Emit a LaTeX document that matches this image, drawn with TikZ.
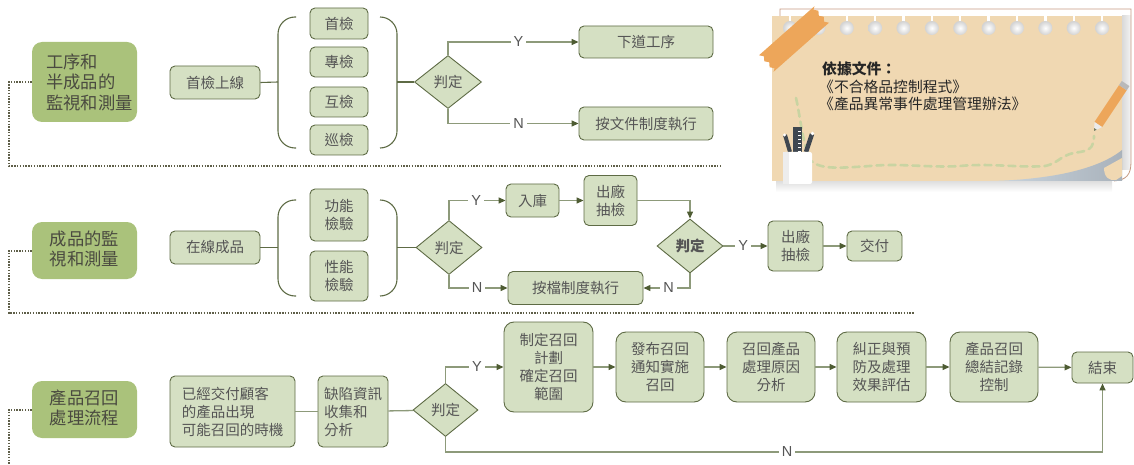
\documentclass[tikz,border=0pt]{standalone}
\usepackage{fontspec}
\setmainfont{Noto Sans CJK TC}
\newfontfamily\latinsans{Liberation Sans}
\usetikzlibrary{shapes.geometric,arrows.meta,calc}

\definecolor{titlegreen}{HTML}{AAC27B}
\definecolor{titletext}{HTML}{4A4A40}
\definecolor{boxfill}{HTML}{D5E0C3}
\definecolor{boxborder}{HTML}{5E6B45}
\definecolor{textgray}{HTML}{555555}
\definecolor{linec}{HTML}{8D9A7A}
\definecolor{arrowc}{HTML}{4E5C33}
\definecolor{dotc}{HTML}{5E5E48}
\definecolor{cardc}{HTML}{F0D8B2}
\definecolor{tapec}{HTML}{EDA65A}
\definecolor{brownline}{HTML}{C59A82}
\definecolor{curlA}{HTML}{CBD6DF}
\definecolor{curlB}{HTML}{A9B2BB}
\definecolor{pathgreen}{HTML}{C9D4A2}
\definecolor{penc}{HTML}{3F4750}

\newcommand\boxfont{\fontsize{14.5}{18}\selectfont}
\newcommand\titlefont{\fontsize{17.3}{20.5}\selectfont}
\newcommand\notefont{\fontsize{14.8}{17.5}\selectfont}
\newcommand\ynfont{\latinsans\fontsize{14.5}{16}\selectfont}

\begin{document}
\begin{tikzpicture}[x=1pt,y=-1pt,
  box/.style={draw=boxborder, fill=boxfill, rounded corners=5pt, line width=0.9pt,
    inner sep=0pt, text=textgray, font=\boxfont, align=center},
  titlebox/.style={fill=titlegreen, rounded corners=10pt, inner sep=0pt},
  titletxt/.style={inner sep=0pt, text=titletext, font=\titlefont},
  dec/.style={diamond, draw=boxborder, fill=boxfill, line width=0.9pt, inner sep=0pt,
    font=\boxfont, text=textgray},
  conn/.style={draw=linec, line width=1.3pt, -{Triangle[length=7pt,width=6pt,color=arrowc]}},
  plainline/.style={draw=linec, line width=1.3pt},
  brkline/.style={draw=boxborder, line width=1.1pt},
  brk/.style={draw=boxborder, line width=1.1pt, rounded corners=17pt},
  sep/.style={draw=dotc, line width=2pt, dash pattern=on 1.4pt off 1.4pt},
  yn/.style={fill=white, inner xsep=3pt, inner ysep=1pt, font=\ynfont, text=textgray}
]
\useasboundingbox (0,0) rectangle (1134,465);

% ---------------- note card ----------------
\shade[top color=black!14, bottom color=white] (776,180) rectangle (1112,192);
\shade[left color=gray!30, right color=gray!8] (1122,16) rectangle (1131,170);
\draw[brownline, line width=0.8pt] (780,16) -- (780,9) -- (1131,9) -- (1131,162)
  .. controls (1131,175) and (1126,180) .. (1114,181);
\fill[cardc] (772,16) rectangle (1122,181);
\shade[left color=curlA, right color=curlB] (990,181)
  .. controls (1040,180) and (1095,172) .. (1122,150) -- (1122,181) -- cycle;
\fill[cardc] (1104,168) .. controls (1104,178) and (1110,181) .. (1116,180)
  -- (1122,176) -- (1122,158) -- cycle;
\foreach \i in {0,...,11}{
  \pgfmathsetmacro\hx{790+28.37*\i}
  \fill[white] (\hx-1.2,16) rectangle (\hx+1.2,23);
  \shade[inner color=white, outer color=gray!35] (\hx,28) circle (7);
}
% tape
\begin{scope}[shift={(794,39)}, rotate=41.5]
  \fill[tapec] (-37,-11) -- (-34,-7) -- (-37,-3) -- (-34,1) -- (-37,5) -- (-34,9) -- (-37,11)
    -- (37,11) -- (34,7) -- (37,3) -- (34,-1) -- (37,-5) -- (34,-9) -- (37,-11) -- cycle;
\end{scope}
% dashed trail
\draw[pathgreen, line width=2.6pt, dash pattern=on 7pt off 5pt, line cap=round]
  (796,98) .. controls (800,115) and (802,140) .. (810,160)
  .. controls (820,170) and (840,168) .. (870,166)
  .. controls (900,163) and (930,168) .. (960,166)
  .. controls (990,163) and (1020,168) .. (1045,166)
  .. controls (1060,163) and (1060,154) .. (1080,152)
  .. controls (1092,150) and (1094,145) .. (1094,136);
% pencil
\begin{scope}[shift={(1094,131)}, rotate=56.3]
  \fill[black!8] (0,0) -- (8,-4.6) -- (8,4.6) -- cycle;
  \fill[pathgreen!60!black] (0,0) -- (2.5,-1.5) -- (2.5,1.5) -- cycle;
  \fill[tapec] (8,-4.6) rectangle (52,4.6);
  \fill[gray!55] (52,-4.6) rectangle (57,4.6);
\end{scope}
% pen cup
\draw[penc, line width=4pt] (790,152) -- (785,135);
\fill[white] (784.5,135) circle (1.6);
\draw[penc, line width=4.5pt] (806,152) -- (812,134);
\fill[white] (812.5,133.5) circle (1.8);
\fill[penc] (793,127) rectangle (802,152);
\foreach \t in {131,135,...,151}{\draw[white, line width=0.6pt] (798,\t) -- (801,\t);}
\fill[white, rounded corners=2pt] (783,152) rectangle (812,184);
\fill[gray!14] (783,152) rectangle (789,184);
% card text
\node[anchor=west, inner sep=0pt, font=\notefont\bfseries, text=black!85] (nt1) at (822,69) {依據文件：};
\node[anchor=west, inner sep=0pt, font=\notefont, text=black!85] (nt2) at (819,87) {《不合格品控制程式》};
\node[anchor=west, inner sep=0pt, font=\notefont, text=black!85] (nt3) at (819,104) {《產品異常事件處理管理辦法》};

% ---------------- section 1 ----------------
\node[titlebox, minimum width=105, minimum height=80] (t1) at (84.5,82) {};
\node[titletxt, anchor=west, align=left] (t1txt) at (46,82) {工序和\\半成品的\\監視和測量};
\coordinate (e1) at (722,166);
\draw[sep] (t1.west) -| (9,166) -- (e1);

\node[box, minimum width=90, minimum height=33] (a0) at (215,82.5) {首檢上線};
\draw[brk] (296,17) -- (278,17) -- (278,148) -- (296,148);
\coordinate (bl1) at (278,82);
\draw[brkline] (a0.east) -- (bl1);
\node[box, minimum width=58, minimum height=31] (a1) at (339,23.5) {首檢};
\node[box, minimum width=58, minimum height=30] (a2) at (339,62) {專檢};
\node[box, minimum width=58, minimum height=30] (a3) at (339,102) {互檢};
\node[box, minimum width=58, minimum height=30] (a4) at (339,140) {巡檢};
\draw[brk] (380,17) -- (397,17) -- (397,148) -- (380,148);
\coordinate (br1) at (397,82);
\node[dec, minimum width=67, minimum height=53] (d1) at (448,82) {判定};
\draw[brkline] (br1) -- (d1.west);
\node[box, minimum width=134, minimum height=32] (a5) at (646,42) {下道工序};
\node[box, minimum width=134, minimum height=33] (a6) at (646,123.5) {按文件制度執行};
\draw[conn] (d1.north) |- node[yn, pos=0.77] {Y} (a5.west);
\draw[conn] (d1.south) |- node[yn, pos=0.77] {N} (a6.west);

% ---------------- section 2 ----------------
\node[titlebox, minimum width=105, minimum height=57] (t2) at (84.5,250.5) {};
\node[titletxt, align=center] (t2txt) at (84.5,249) {成品的監\\視和測量};
\coordinate (e2) at (914,313);
\draw[sep] (t2.west) -| (9,313) -- (e2);

\node[box, minimum width=90, minimum height=33] (b0) at (215,247.5) {在線成品};
\draw[brk] (296,200) -- (278,200) -- (278,296) -- (296,296);
\coordinate (bl2) at (278,247.5);
\draw[brkline] (b0.east) -- (bl2);
\node[box, minimum width=58, minimum height=52] (b1) at (339,215) {功能\\檢驗};
\node[box, minimum width=58, minimum height=50] (b2) at (339,276) {性能\\檢驗};
\draw[brk] (380,200) -- (397,200) -- (397,296) -- (380,296);
\coordinate (br2) at (397,247.5);
\node[dec, minimum width=66, minimum height=54] (d2) at (449,247.5) {判定};
\draw[brkline] (br2) -- (d2.west);
\node[box, minimum width=53, minimum height=33] (b3) at (532.5,200.5) {入庫};
\node[box, minimum width=53, minimum height=50] (b4) at (610.5,200.5) {出廠\\抽檢};
\node[dec, minimum width=66, minimum height=54, font=\boxfont\bfseries] (d3) at (690,246) {判定};
\node[box, minimum width=55, minimum height=50] (b5) at (795.5,246) {出廠\\抽檢};
\node[box, minimum width=55, minimum height=30] (b6) at (874.5,246) {交付};
\node[box, minimum width=135, minimum height=33] (b7) at (575.5,288) {按檔制度執行};
\draw[conn] (d2.north) |- node[yn, pos=0.74] {Y} (b3.west);
\draw[conn] (b3) -- (b4);
\draw[conn] (b4.east) -| (d3.north);
\draw[conn] (d3.east) -- node[yn, pos=0.45] {Y} (b5.west);
\draw[conn] (b5) -- (b6);
\draw[conn] (d3.south) |- node[yn, pos=0.73] {N} (b7.east);
\draw[conn] (d2.south) |- node[yn, pos=0.74] {N} (b7.west);

% ---------------- section 3 ----------------
\node[titlebox, minimum width=105, minimum height=57] (t3) at (84.5,409.5) {};
\node[titletxt, align=center] (t3txt) at (84.5,408) {產品召回\\處理流程};
\coordinate (e3) at (9,465);
\draw[sep] (t3.west) -| (e3);

\node[box, minimum width=125, minimum height=71, align=left] (c1) at (232.5,411.5) {已經交付顧客\\的產品出現\\可能召回的時機};
\node[box, minimum width=70, minimum height=71, align=left] (c2) at (353,411.5) {缺陷資訊\\收集和\\分析};
\node[dec, minimum width=65, minimum height=53] (d4) at (445.5,410) {判定};
\draw[plainline] (c1) -- (c2);
\draw[plainline] (c2) -- (d4);
\node[box, minimum width=89, minimum height=90, rounded corners=10pt] (c3) at (548.5,367) {制定召回\\計劃\\確定召回\\範圍};
\node[box, minimum width=88, minimum height=70, rounded corners=10pt] (c4) at (660,367) {發布召回\\通知實施\\召回};
\node[box, minimum width=88, minimum height=70, rounded corners=10pt] (c5) at (771,367) {召回產品\\處理原因\\分析};
\node[box, minimum width=89, minimum height=70, rounded corners=10pt] (c6) at (881.5,367) {糾正與預\\防及處理\\效果評估};
\node[box, minimum width=88, minimum height=70, rounded corners=10pt] (c7) at (994,367) {產品召回\\總結記錄\\控制};
\node[box, minimum width=61, minimum height=31] (c8) at (1102.5,367.5) {結束};
\draw[conn] (d4.north) |- node[yn, pos=0.77] {Y} (c3.west);
\draw[conn] (c3) -- (c4);
\draw[conn] (c4) -- (c5);
\draw[conn] (c5) -- (c6);
\draw[conn] (c6) -- (c7);
\draw[conn] (c7) -- (c8);
\draw[conn] (d4.south) -- ++(0,15) -| node[yn, pos=0.26] {N} (c8.south);
\end{tikzpicture}
\end{document}
